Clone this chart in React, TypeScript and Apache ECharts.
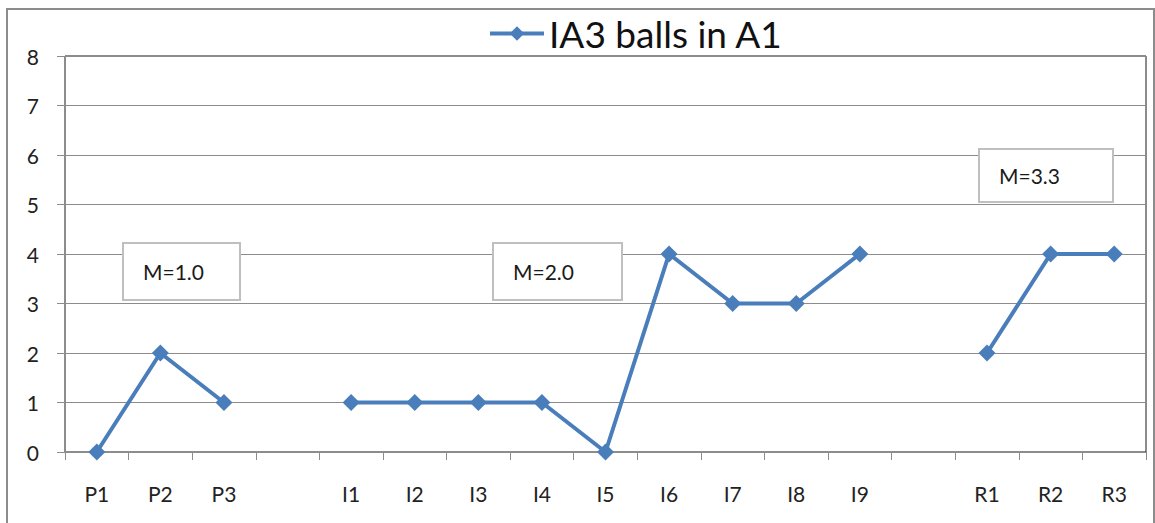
import React, { useEffect, useRef } from "react";
import * as echarts from "echarts";

const categories = ["P1", "P2", "P3", "", "I1", "I2", "I3", "I4", "I5", "I6", "I7", "I8", "I9", "", "R1", "R2", "R3"];
const ballsValues: (number | string)[] = [0, 2, 1, "-", 1, 1, 1, 1, 0, 4, 3, 3, 4, "-", 2, 4, 4];
const seriesName = "IA3 balls in A1";
const yTicks = { min: 0, max: 8, interval: 1 };
const meanLabels = [
  { text: "M=1.0", x: 123, y: 243, w: 117, h: 57 },
  { text: "M=2.0", x: 493, y: 243, w: 129, h: 57 },
  { text: "M=3.3", x: 979, y: 149, w: 134, h: 53 },
];

const FONT = "Lato, 'Open Sans', sans-serif";
const BLUE = "#4a7ebb";
const GRAY = "#8c8c8c";

export default function App() {
  const ref = useRef<HTMLDivElement>(null);
  useEffect(() => {
    if (!ref.current) return;
    const chart = echarts.init(ref.current, null, { renderer: "svg" });
    const graphics: any[] = [
      {
        type: "rect",
        shape: { x: 7, y: 9, width: 1147, height: 540 },
        style: { fill: "none", stroke: GRAY, lineWidth: 2 },
        z: 100,
        silent: true,
      },
    ];
    meanLabels.forEach((m) => {
      graphics.push({
        type: "rect",
        shape: { x: m.x, y: m.y, width: m.w, height: m.h },
        style: { fill: "#ffffff", stroke: "#bfbfbf", lineWidth: 2 },
        z: 50,
      });
      graphics.push({
        type: "text",
        x: m.x + 20,
        y: m.y + m.h / 2,
        style: {
          text: m.text,
          fontSize: 21,
          fontFamily: FONT,
          fill: "#1a1a1a",
          verticalAlign: "middle",
          align: "left",
        },
        z: 51,
      });
    });
    chart.setOption({
      animation: false,
      backgroundColor: "#ffffff",
      grid: {
        left: 65,
        right: 9,
        top: 56,
        bottom: 71,
        show: true,
        borderColor: "#1a1a1a",
        borderWidth: 1,
        backgroundColor: "transparent",
      },
      legend: {
        show: true,
        left: 483,
        top: 10,
        itemWidth: 54,
        itemHeight: 18,
        lineStyle: { width: 4, color: BLUE },
        itemStyle: { color: BLUE },
        textStyle: { fontSize: 37, fontFamily: FONT, color: "#111" },
        data: [seriesName],
      },
      xAxis: {
        type: "category",
        data: categories,
        boundaryGap: true,
        axisLine: { show: true, lineStyle: { color: GRAY, width: 1 } },
        axisTick: { show: true, length: 8, lineStyle: { color: GRAY }, alignWithLabel: false, interval: 0 },
        axisLabel: { interval: 0, fontSize: 21, fontFamily: FONT, color: "#222", margin: 31 },
        splitLine: { show: false },
      },
      yAxis: {
        type: "value",
        min: yTicks.min,
        max: yTicks.max,
        interval: yTicks.interval,
        axisLine: { show: true, lineStyle: { color: GRAY, width: 1 } },
        axisTick: { show: true, length: 8, lineStyle: { color: GRAY } },
        axisLabel: { fontSize: 21, fontFamily: FONT, color: "#222", margin: 26 },
        splitLine: { show: true, lineStyle: { color: GRAY, width: 1 } },
      },
      series: [
        {
          name: seriesName,
          type: "line",
          data: ballsValues,
          connectNulls: false,
          symbol: "diamond",
          symbolSize: 17,
          lineStyle: { color: BLUE, width: 4 },
          itemStyle: { color: BLUE },
          z: 10,
        },
      ],
      graphic: graphics,
    });
    return () => chart.dispose();
  }, []);
  return (
    <div
      ref={ref}
      style={{ position: "fixed", left: 0, top: 0, width: 1155, height: 523 }}
    />
  );
}
